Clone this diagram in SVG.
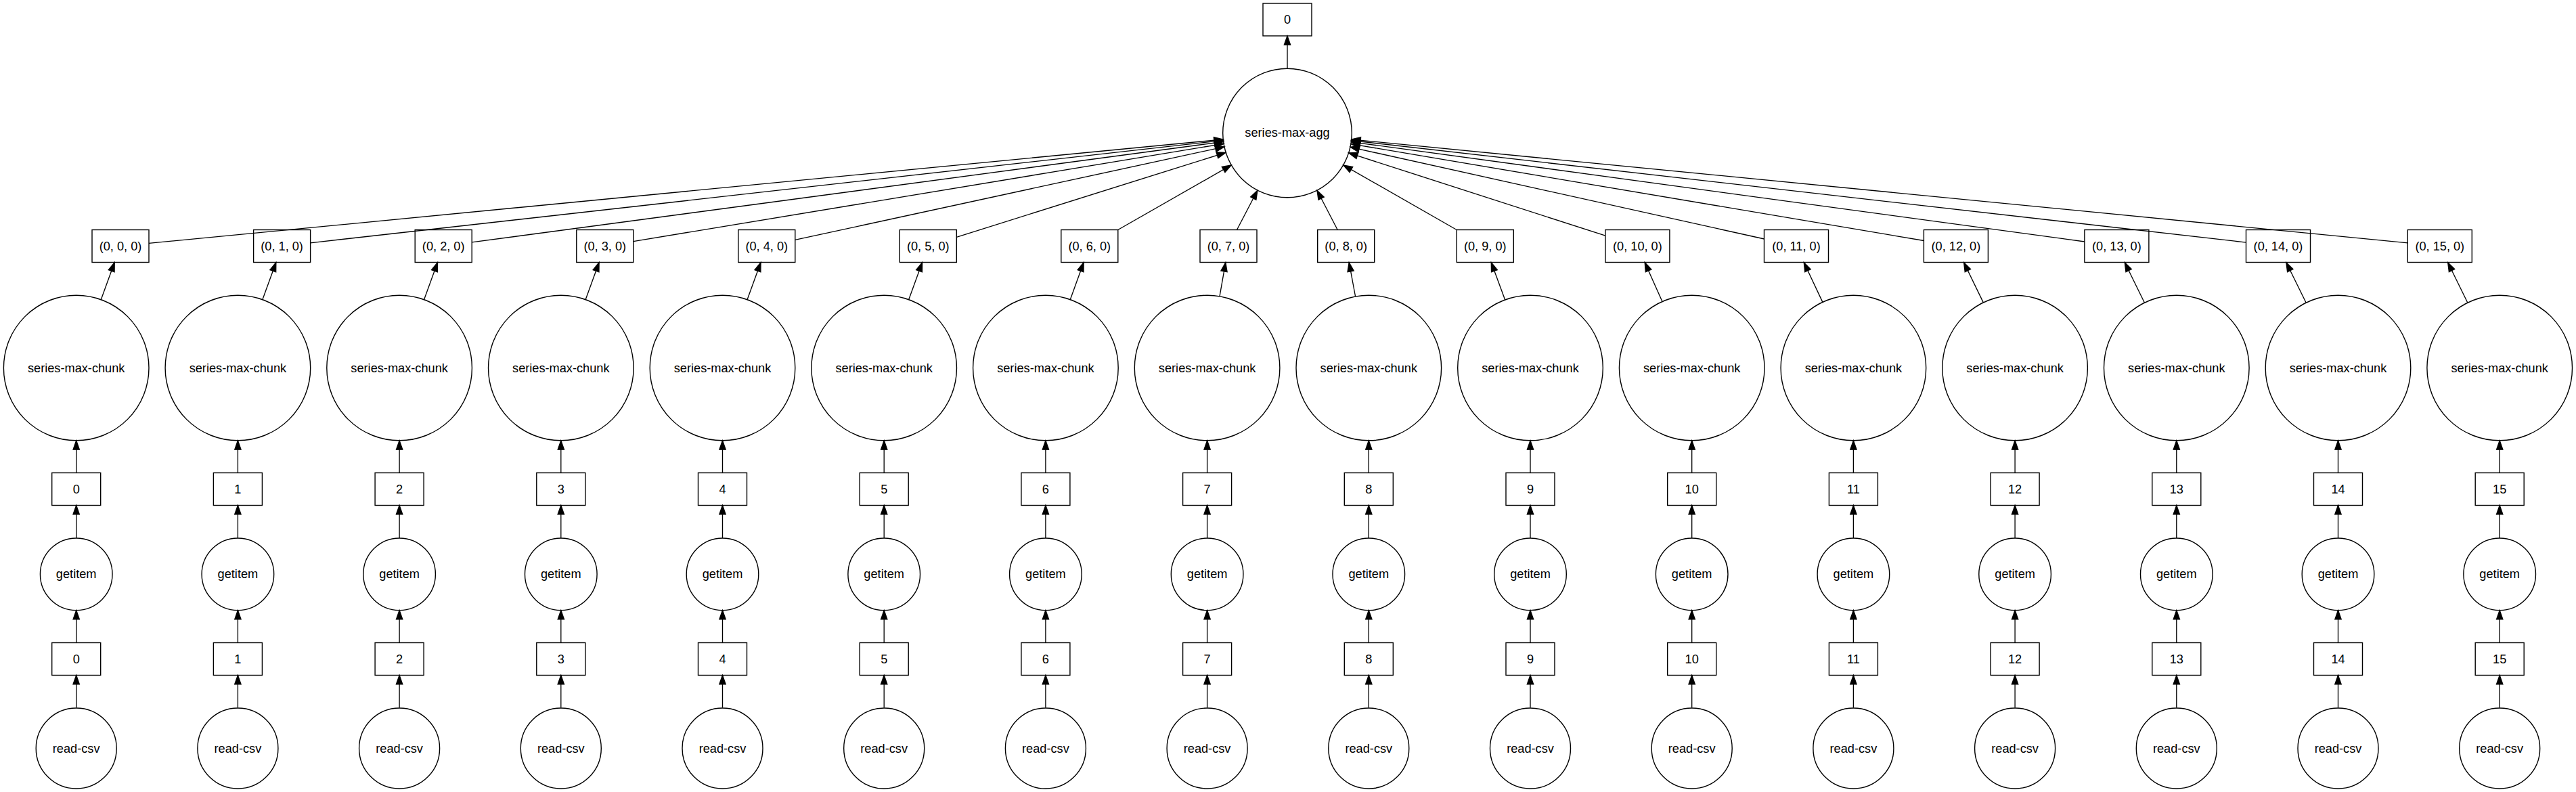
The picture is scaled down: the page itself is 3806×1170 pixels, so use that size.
<svg xmlns="http://www.w3.org/2000/svg" width="3806" height="1170" viewBox="0 0 3806 1170">
<style>
.bg{fill:#ffffff}
.nd{fill:none;stroke:#000;stroke-width:1.4}
.tx{font-family:"Liberation Sans",Arial,Helvetica,sans-serif;font-size:18.2px;fill:#000;text-anchor:middle}
.e{stroke:#000;stroke-width:1.33;fill:none;marker-end:url(#ah)}
</style>
<defs>
<marker id="ah" markerUnits="userSpaceOnUse" markerWidth="14" markerHeight="10" refX="13.33" refY="4.67" orient="auto" overflow="visible">
<path d="M0,0 L13.33,4.67 L0,9.34 z" fill="#000" stroke="#000" stroke-width="1.33"/>
</marker>
</defs>
<rect class="bg" x="0" y="0" width="3806" height="1170"/>
<g id="connectors">
<line class="e" x1="1902" y1="101.2" x2="1902" y2="53"/>
<line class="e" x1="220" y1="359.4" x2="1807.1" y2="205.9"/>
<line class="e" x1="458.6" y1="358.8" x2="1807.3" y2="207.3"/>
<line class="e" x1="697.2" y1="357.9" x2="1807.5" y2="209.3"/>
<line class="e" x1="935.8" y1="356.6" x2="1808.0" y2="212.3"/>
<line class="e" x1="1174.8" y1="354.4" x2="1808.9" y2="216.9"/>
<line class="e" x1="1413.3" y1="350.3" x2="1811.1" y2="225.3"/>
<line class="e" x1="1651.8" y1="339.5" x2="1819.2" y2="243.9"/>
<line class="e" x1="1827.5" y1="339.5" x2="1857.9" y2="281.2"/>
<line class="e" x1="1976.2" y1="339.5" x2="1946.0" y2="281.3"/>
<line class="e" x1="2152.2" y1="339.5" x2="1984.8" y2="243.9"/>
<line class="e" x1="2371.9" y1="348.2" x2="1992.7" y2="225.9"/>
<line class="e" x1="2606.5" y1="353.0" x2="1995.0" y2="217.3"/>
<line class="e" x1="2842.4" y1="355.5" x2="1996.0" y2="212.6"/>
<line class="e" x1="3079.9" y1="357.0" x2="1996.4" y2="209.6"/>
<line class="e" x1="3318.5" y1="358.1" x2="1996.7" y2="207.5"/>
<line class="e" x1="3557.3" y1="358.8" x2="1996.8" y2="206.0"/>
<line class="e" x1="149.3" y1="442.6" x2="169.2" y2="387.7"/>
<line class="e" x1="387.9" y1="442.6" x2="407.8" y2="387.7"/>
<line class="e" x1="626.6" y1="442.6" x2="646.5" y2="387.7"/>
<line class="e" x1="865.2" y1="442.6" x2="885.1" y2="387.7"/>
<line class="e" x1="1104.1" y1="442.6" x2="1124.0" y2="387.7"/>
<line class="e" x1="1342.7" y1="442.6" x2="1362.6" y2="387.7"/>
<line class="e" x1="1581.3" y1="442.6" x2="1601.1" y2="387.7"/>
<line class="e" x1="1802.0" y1="437.8" x2="1810.8" y2="387.7"/>
<line class="e" x1="2002.6" y1="438.0" x2="1993.2" y2="387.7"/>
<line class="e" x1="2223.7" y1="442.9" x2="2203.3" y2="387.7"/>
<line class="e" x1="2456.0" y1="445.5" x2="2430.2" y2="387.7"/>
<line class="e" x1="2692.9" y1="446.4" x2="2665.3" y2="387.7"/>
<line class="e" x1="2930.3" y1="446.9" x2="2901.6" y2="387.7"/>
<line class="e" x1="3168.5" y1="447.2" x2="3139.3" y2="387.7"/>
<line class="e" x1="3407.2" y1="447.2" x2="3377.9" y2="387.7"/>
<line class="e" x1="3645.9" y1="447.2" x2="3616.7" y2="387.7"/>
<path class="e" d="M112.7,698.5 V650.8"/><path class="e" d="M112.7,795 V746.5"/><path class="e" d="M112.7,949.5 V901.6"/><path class="e" d="M112.7,1045.5 V997.5"/>
<path class="e" d="M351.4,698.5 V650.8"/><path class="e" d="M351.4,795 V746.5"/><path class="e" d="M351.4,949.5 V901.6"/><path class="e" d="M351.4,1045.5 V997.5"/>
<path class="e" d="M590.1,698.5 V650.8"/><path class="e" d="M590.1,795 V746.5"/><path class="e" d="M590.1,949.5 V901.6"/><path class="e" d="M590.1,1045.5 V997.5"/>
<path class="e" d="M828.8,698.5 V650.8"/><path class="e" d="M828.8,795 V746.5"/><path class="e" d="M828.8,949.5 V901.6"/><path class="e" d="M828.8,1045.5 V997.5"/>
<path class="e" d="M1067.5,698.5 V650.8"/><path class="e" d="M1067.5,795 V746.5"/><path class="e" d="M1067.5,949.5 V901.6"/><path class="e" d="M1067.5,1045.5 V997.5"/>
<path class="e" d="M1306.2,698.5 V650.8"/><path class="e" d="M1306.2,795 V746.5"/><path class="e" d="M1306.2,949.5 V901.6"/><path class="e" d="M1306.2,1045.5 V997.5"/>
<path class="e" d="M1544.9,698.5 V650.8"/><path class="e" d="M1544.9,795 V746.5"/><path class="e" d="M1544.9,949.5 V901.6"/><path class="e" d="M1544.9,1045.5 V997.5"/>
<path class="e" d="M1783.6,698.5 V650.8"/><path class="e" d="M1783.6,795 V746.5"/><path class="e" d="M1783.6,949.5 V901.6"/><path class="e" d="M1783.6,1045.5 V997.5"/>
<path class="e" d="M2022.3,698.5 V650.8"/><path class="e" d="M2022.3,795 V746.5"/><path class="e" d="M2022.3,949.5 V901.6"/><path class="e" d="M2022.3,1045.5 V997.5"/>
<path class="e" d="M2261,698.5 V650.8"/><path class="e" d="M2261,795 V746.5"/><path class="e" d="M2261,949.5 V901.6"/><path class="e" d="M2261,1045.5 V997.5"/>
<path class="e" d="M2499.7,698.5 V650.8"/><path class="e" d="M2499.7,795 V746.5"/><path class="e" d="M2499.7,949.5 V901.6"/><path class="e" d="M2499.7,1045.5 V997.5"/>
<path class="e" d="M2738.4,698.5 V650.8"/><path class="e" d="M2738.4,795 V746.5"/><path class="e" d="M2738.4,949.5 V901.6"/><path class="e" d="M2738.4,1045.5 V997.5"/>
<path class="e" d="M2977.1,698.5 V650.8"/><path class="e" d="M2977.1,795 V746.5"/><path class="e" d="M2977.1,949.5 V901.6"/><path class="e" d="M2977.1,1045.5 V997.5"/>
<path class="e" d="M3215.8,698.5 V650.8"/><path class="e" d="M3215.8,795 V746.5"/><path class="e" d="M3215.8,949.5 V901.6"/><path class="e" d="M3215.8,1045.5 V997.5"/>
<path class="e" d="M3454.5,698.5 V650.8"/><path class="e" d="M3454.5,795 V746.5"/><path class="e" d="M3454.5,949.5 V901.6"/><path class="e" d="M3454.5,1045.5 V997.5"/>
<path class="e" d="M3693.2,698.5 V650.8"/><path class="e" d="M3693.2,795 V746.5"/><path class="e" d="M3693.2,949.5 V901.6"/><path class="e" d="M3693.2,1045.5 V997.5"/>
</g>
<g id="n_top"><rect class="nd" x="1866" y="5" width="72" height="48"/><text class="tx" x="1902" y="35">0</text></g>
<g id="n_agg"><circle class="nd" cx="1902" cy="196.5" r="95.3"/><text class="tx" x="1902" y="202">series-max-agg</text></g>
<g id="n_t0"><rect class="nd" x="136" y="339.5" width="84" height="48"/><text class="tx" x="178" y="369.5">(0, 0, 0)</text></g>
<g id="n_t1"><rect class="nd" x="374.6" y="339.5" width="84" height="48"/><text class="tx" x="416.6" y="369.5">(0, 1, 0)</text></g>
<g id="n_t2"><rect class="nd" x="613.2" y="339.5" width="84" height="48"/><text class="tx" x="655.2" y="369.5">(0, 2, 0)</text></g>
<g id="n_t3"><rect class="nd" x="851.8" y="339.5" width="84" height="48"/><text class="tx" x="893.8" y="369.5">(0, 3, 0)</text></g>
<g id="n_t4"><rect class="nd" x="1090.8" y="339.5" width="84" height="48"/><text class="tx" x="1132.8" y="369.5">(0, 4, 0)</text></g>
<g id="n_t5"><rect class="nd" x="1329.3" y="339.5" width="84" height="48"/><text class="tx" x="1371.3" y="369.5">(0, 5, 0)</text></g>
<g id="n_t6"><rect class="nd" x="1567.8" y="339.5" width="84" height="48"/><text class="tx" x="1609.8" y="369.5">(0, 6, 0)</text></g>
<g id="n_t7"><rect class="nd" x="1773" y="339.5" width="84" height="48"/><text class="tx" x="1815" y="369.5">(0, 7, 0)</text></g>
<g id="n_t8"><rect class="nd" x="1946.7" y="339.5" width="84" height="48"/><text class="tx" x="1988.7" y="369.5">(0, 8, 0)</text></g>
<g id="n_t9"><rect class="nd" x="2152.3" y="339.5" width="84" height="48"/><text class="tx" x="2194.3" y="369.5">(0, 9, 0)</text></g>
<g id="n_t10"><rect class="nd" x="2371.9" y="339.5" width="95" height="48"/><text class="tx" x="2419.4" y="369.5">(0, 10, 0)</text></g>
<g id="n_t11"><rect class="nd" x="2606.5" y="339.5" width="95" height="48"/><text class="tx" x="2654" y="369.5">(0, 11, 0)</text></g>
<g id="n_t12"><rect class="nd" x="2842.4" y="339.5" width="95" height="48"/><text class="tx" x="2889.9" y="369.5">(0, 12, 0)</text></g>
<g id="n_t13"><rect class="nd" x="3079.9" y="339.5" width="95" height="48"/><text class="tx" x="3127.4" y="369.5">(0, 13, 0)</text></g>
<g id="n_t14"><rect class="nd" x="3318.5" y="339.5" width="95" height="48"/><text class="tx" x="3366" y="369.5">(0, 14, 0)</text></g>
<g id="n_t15"><rect class="nd" x="3557.3" y="339.5" width="95" height="48"/><text class="tx" x="3604.8" y="369.5">(0, 15, 0)</text></g>
<g id="n_chunk0"><circle class="nd" cx="112.7" cy="543.5" r="107.3"/><text class="tx" x="112.7" y="549.5">series-max-chunk</text></g>
<g id="n_chunk1"><circle class="nd" cx="351.4" cy="543.5" r="107.3"/><text class="tx" x="351.4" y="549.5">series-max-chunk</text></g>
<g id="n_chunk2"><circle class="nd" cx="590.1" cy="543.5" r="107.3"/><text class="tx" x="590.1" y="549.5">series-max-chunk</text></g>
<g id="n_chunk3"><circle class="nd" cx="828.8" cy="543.5" r="107.3"/><text class="tx" x="828.8" y="549.5">series-max-chunk</text></g>
<g id="n_chunk4"><circle class="nd" cx="1067.5" cy="543.5" r="107.3"/><text class="tx" x="1067.5" y="549.5">series-max-chunk</text></g>
<g id="n_chunk5"><circle class="nd" cx="1306.2" cy="543.5" r="107.3"/><text class="tx" x="1306.2" y="549.5">series-max-chunk</text></g>
<g id="n_chunk6"><circle class="nd" cx="1544.9" cy="543.5" r="107.3"/><text class="tx" x="1544.9" y="549.5">series-max-chunk</text></g>
<g id="n_chunk7"><circle class="nd" cx="1783.6" cy="543.5" r="107.3"/><text class="tx" x="1783.6" y="549.5">series-max-chunk</text></g>
<g id="n_chunk8"><circle class="nd" cx="2022.3" cy="543.5" r="107.3"/><text class="tx" x="2022.3" y="549.5">series-max-chunk</text></g>
<g id="n_chunk9"><circle class="nd" cx="2261" cy="543.5" r="107.3"/><text class="tx" x="2261" y="549.5">series-max-chunk</text></g>
<g id="n_chunk10"><circle class="nd" cx="2499.7" cy="543.5" r="107.3"/><text class="tx" x="2499.7" y="549.5">series-max-chunk</text></g>
<g id="n_chunk11"><circle class="nd" cx="2738.4" cy="543.5" r="107.3"/><text class="tx" x="2738.4" y="549.5">series-max-chunk</text></g>
<g id="n_chunk12"><circle class="nd" cx="2977.1" cy="543.5" r="107.3"/><text class="tx" x="2977.1" y="549.5">series-max-chunk</text></g>
<g id="n_chunk13"><circle class="nd" cx="3215.8" cy="543.5" r="107.3"/><text class="tx" x="3215.8" y="549.5">series-max-chunk</text></g>
<g id="n_chunk14"><circle class="nd" cx="3454.5" cy="543.5" r="107.3"/><text class="tx" x="3454.5" y="549.5">series-max-chunk</text></g>
<g id="n_chunk15"><circle class="nd" cx="3693.2" cy="543.5" r="107.3"/><text class="tx" x="3693.2" y="549.5">series-max-chunk</text></g>
<g id="n_b1_0"><rect class="nd" x="76.7" y="698.5" width="72" height="48"/><text class="tx" x="112.7" y="728.5">0</text></g>
<g id="n_b1_1"><rect class="nd" x="315.4" y="698.5" width="72" height="48"/><text class="tx" x="351.4" y="728.5">1</text></g>
<g id="n_b1_2"><rect class="nd" x="554.1" y="698.5" width="72" height="48"/><text class="tx" x="590.1" y="728.5">2</text></g>
<g id="n_b1_3"><rect class="nd" x="792.8" y="698.5" width="72" height="48"/><text class="tx" x="828.8" y="728.5">3</text></g>
<g id="n_b1_4"><rect class="nd" x="1031.5" y="698.5" width="72" height="48"/><text class="tx" x="1067.5" y="728.5">4</text></g>
<g id="n_b1_5"><rect class="nd" x="1270.2" y="698.5" width="72" height="48"/><text class="tx" x="1306.2" y="728.5">5</text></g>
<g id="n_b1_6"><rect class="nd" x="1508.9" y="698.5" width="72" height="48"/><text class="tx" x="1544.9" y="728.5">6</text></g>
<g id="n_b1_7"><rect class="nd" x="1747.6" y="698.5" width="72" height="48"/><text class="tx" x="1783.6" y="728.5">7</text></g>
<g id="n_b1_8"><rect class="nd" x="1986.3" y="698.5" width="72" height="48"/><text class="tx" x="2022.3" y="728.5">8</text></g>
<g id="n_b1_9"><rect class="nd" x="2225" y="698.5" width="72" height="48"/><text class="tx" x="2261" y="728.5">9</text></g>
<g id="n_b1_10"><rect class="nd" x="2463.7" y="698.5" width="72" height="48"/><text class="tx" x="2499.7" y="728.5">10</text></g>
<g id="n_b1_11"><rect class="nd" x="2702.4" y="698.5" width="72" height="48"/><text class="tx" x="2738.4" y="728.5">11</text></g>
<g id="n_b1_12"><rect class="nd" x="2941.1" y="698.5" width="72" height="48"/><text class="tx" x="2977.1" y="728.5">12</text></g>
<g id="n_b1_13"><rect class="nd" x="3179.8" y="698.5" width="72" height="48"/><text class="tx" x="3215.8" y="728.5">13</text></g>
<g id="n_b1_14"><rect class="nd" x="3418.5" y="698.5" width="72" height="48"/><text class="tx" x="3454.5" y="728.5">14</text></g>
<g id="n_b1_15"><rect class="nd" x="3657.2" y="698.5" width="72" height="48"/><text class="tx" x="3693.2" y="728.5">15</text></g>
<g id="n_get0"><circle class="nd" cx="112.7" cy="848.3" r="53.3"/><text class="tx" x="112.7" y="854">getitem</text></g>
<g id="n_get1"><circle class="nd" cx="351.4" cy="848.3" r="53.3"/><text class="tx" x="351.4" y="854">getitem</text></g>
<g id="n_get2"><circle class="nd" cx="590.1" cy="848.3" r="53.3"/><text class="tx" x="590.1" y="854">getitem</text></g>
<g id="n_get3"><circle class="nd" cx="828.8" cy="848.3" r="53.3"/><text class="tx" x="828.8" y="854">getitem</text></g>
<g id="n_get4"><circle class="nd" cx="1067.5" cy="848.3" r="53.3"/><text class="tx" x="1067.5" y="854">getitem</text></g>
<g id="n_get5"><circle class="nd" cx="1306.2" cy="848.3" r="53.3"/><text class="tx" x="1306.2" y="854">getitem</text></g>
<g id="n_get6"><circle class="nd" cx="1544.9" cy="848.3" r="53.3"/><text class="tx" x="1544.9" y="854">getitem</text></g>
<g id="n_get7"><circle class="nd" cx="1783.6" cy="848.3" r="53.3"/><text class="tx" x="1783.6" y="854">getitem</text></g>
<g id="n_get8"><circle class="nd" cx="2022.3" cy="848.3" r="53.3"/><text class="tx" x="2022.3" y="854">getitem</text></g>
<g id="n_get9"><circle class="nd" cx="2261" cy="848.3" r="53.3"/><text class="tx" x="2261" y="854">getitem</text></g>
<g id="n_get10"><circle class="nd" cx="2499.7" cy="848.3" r="53.3"/><text class="tx" x="2499.7" y="854">getitem</text></g>
<g id="n_get11"><circle class="nd" cx="2738.4" cy="848.3" r="53.3"/><text class="tx" x="2738.4" y="854">getitem</text></g>
<g id="n_get12"><circle class="nd" cx="2977.1" cy="848.3" r="53.3"/><text class="tx" x="2977.1" y="854">getitem</text></g>
<g id="n_get13"><circle class="nd" cx="3215.8" cy="848.3" r="53.3"/><text class="tx" x="3215.8" y="854">getitem</text></g>
<g id="n_get14"><circle class="nd" cx="3454.5" cy="848.3" r="53.3"/><text class="tx" x="3454.5" y="854">getitem</text></g>
<g id="n_get15"><circle class="nd" cx="3693.2" cy="848.3" r="53.3"/><text class="tx" x="3693.2" y="854">getitem</text></g>
<g id="n_b0_0"><rect class="nd" x="76.7" y="949.5" width="72" height="48"/><text class="tx" x="112.7" y="979.5">0</text></g>
<g id="n_b0_1"><rect class="nd" x="315.4" y="949.5" width="72" height="48"/><text class="tx" x="351.4" y="979.5">1</text></g>
<g id="n_b0_2"><rect class="nd" x="554.1" y="949.5" width="72" height="48"/><text class="tx" x="590.1" y="979.5">2</text></g>
<g id="n_b0_3"><rect class="nd" x="792.8" y="949.5" width="72" height="48"/><text class="tx" x="828.8" y="979.5">3</text></g>
<g id="n_b0_4"><rect class="nd" x="1031.5" y="949.5" width="72" height="48"/><text class="tx" x="1067.5" y="979.5">4</text></g>
<g id="n_b0_5"><rect class="nd" x="1270.2" y="949.5" width="72" height="48"/><text class="tx" x="1306.2" y="979.5">5</text></g>
<g id="n_b0_6"><rect class="nd" x="1508.9" y="949.5" width="72" height="48"/><text class="tx" x="1544.9" y="979.5">6</text></g>
<g id="n_b0_7"><rect class="nd" x="1747.6" y="949.5" width="72" height="48"/><text class="tx" x="1783.6" y="979.5">7</text></g>
<g id="n_b0_8"><rect class="nd" x="1986.3" y="949.5" width="72" height="48"/><text class="tx" x="2022.3" y="979.5">8</text></g>
<g id="n_b0_9"><rect class="nd" x="2225" y="949.5" width="72" height="48"/><text class="tx" x="2261" y="979.5">9</text></g>
<g id="n_b0_10"><rect class="nd" x="2463.7" y="949.5" width="72" height="48"/><text class="tx" x="2499.7" y="979.5">10</text></g>
<g id="n_b0_11"><rect class="nd" x="2702.4" y="949.5" width="72" height="48"/><text class="tx" x="2738.4" y="979.5">11</text></g>
<g id="n_b0_12"><rect class="nd" x="2941.1" y="949.5" width="72" height="48"/><text class="tx" x="2977.1" y="979.5">12</text></g>
<g id="n_b0_13"><rect class="nd" x="3179.8" y="949.5" width="72" height="48"/><text class="tx" x="3215.8" y="979.5">13</text></g>
<g id="n_b0_14"><rect class="nd" x="3418.5" y="949.5" width="72" height="48"/><text class="tx" x="3454.5" y="979.5">14</text></g>
<g id="n_b0_15"><rect class="nd" x="3657.2" y="949.5" width="72" height="48"/><text class="tx" x="3693.2" y="979.5">15</text></g>
<g id="n_csv0"><circle class="nd" cx="112.7" cy="1105.5" r="59.5"/><text class="tx" x="112.7" y="1111.5">read-csv</text></g>
<g id="n_csv1"><circle class="nd" cx="351.4" cy="1105.5" r="59.5"/><text class="tx" x="351.4" y="1111.5">read-csv</text></g>
<g id="n_csv2"><circle class="nd" cx="590.1" cy="1105.5" r="59.5"/><text class="tx" x="590.1" y="1111.5">read-csv</text></g>
<g id="n_csv3"><circle class="nd" cx="828.8" cy="1105.5" r="59.5"/><text class="tx" x="828.8" y="1111.5">read-csv</text></g>
<g id="n_csv4"><circle class="nd" cx="1067.5" cy="1105.5" r="59.5"/><text class="tx" x="1067.5" y="1111.5">read-csv</text></g>
<g id="n_csv5"><circle class="nd" cx="1306.2" cy="1105.5" r="59.5"/><text class="tx" x="1306.2" y="1111.5">read-csv</text></g>
<g id="n_csv6"><circle class="nd" cx="1544.9" cy="1105.5" r="59.5"/><text class="tx" x="1544.9" y="1111.5">read-csv</text></g>
<g id="n_csv7"><circle class="nd" cx="1783.6" cy="1105.5" r="59.5"/><text class="tx" x="1783.6" y="1111.5">read-csv</text></g>
<g id="n_csv8"><circle class="nd" cx="2022.3" cy="1105.5" r="59.5"/><text class="tx" x="2022.3" y="1111.5">read-csv</text></g>
<g id="n_csv9"><circle class="nd" cx="2261" cy="1105.5" r="59.5"/><text class="tx" x="2261" y="1111.5">read-csv</text></g>
<g id="n_csv10"><circle class="nd" cx="2499.7" cy="1105.5" r="59.5"/><text class="tx" x="2499.7" y="1111.5">read-csv</text></g>
<g id="n_csv11"><circle class="nd" cx="2738.4" cy="1105.5" r="59.5"/><text class="tx" x="2738.4" y="1111.5">read-csv</text></g>
<g id="n_csv12"><circle class="nd" cx="2977.1" cy="1105.5" r="59.5"/><text class="tx" x="2977.1" y="1111.5">read-csv</text></g>
<g id="n_csv13"><circle class="nd" cx="3215.8" cy="1105.5" r="59.5"/><text class="tx" x="3215.8" y="1111.5">read-csv</text></g>
<g id="n_csv14"><circle class="nd" cx="3454.5" cy="1105.5" r="59.5"/><text class="tx" x="3454.5" y="1111.5">read-csv</text></g>
<g id="n_csv15"><circle class="nd" cx="3693.2" cy="1105.5" r="59.5"/><text class="tx" x="3693.2" y="1111.5">read-csv</text></g>
</svg>
